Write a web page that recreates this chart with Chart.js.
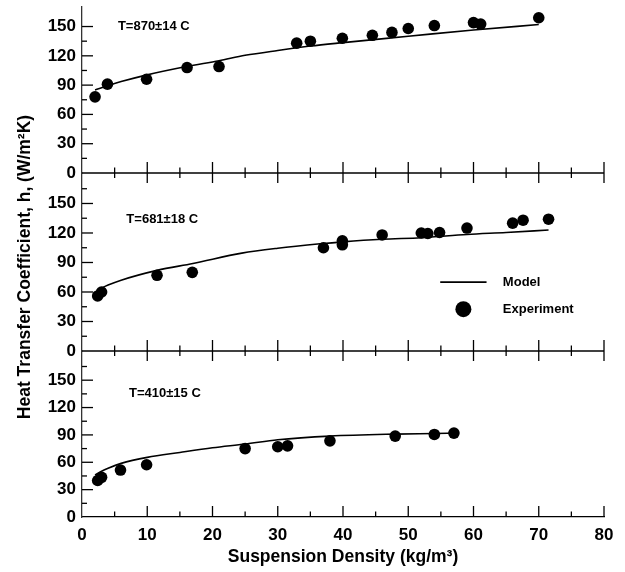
<!DOCTYPE html>
<html><head><meta charset="utf-8">
<script src="https://cdn.jsdelivr.net/npm/chart.js@4/dist/chart.umd.min.js"></script>
<style>html,body{margin:0;padding:0;background:#fff}#wrap{width:625px;height:572px;position:relative}</style>
</head><body><div id="wrap"><canvas id="c" width="625" height="572"></canvas></div>
<script>
// ---- data ----
const xTickValues = [0,10,20,30,40,50,60,70,80];
const yTickValues = [0,30,60,90,120,150];
const panelLabels = ['T=870±14 C','T=681±18 C','T=410±15 C'];
const seriesNames = ['Model','Experiment'];

// Panel 1 (T=870)
const exp1X = [2.0,3.9,9.9,16.1,21.0,32.9,35.0,39.9,44.5,47.5,50.0,54.0,60.0,61.1,70.0];
const exp1Y = [78,91,96,108,109,133,135,138,141,144,148,151,154,152.5,159];
const mod1X = [2,4,6,10,16,21,25,30,35,40,50,60,70];
const mod1Y = [85,89.5,93.6,100.5,109,115,120.5,125.5,130,133.5,140,146.5,152];

// Panel 2 (T=681)
const exp2X = [2.4,3.0,11.5,16.9,37.0,39.9,39.9,46.0,52.0,53.0,54.8,59.0,66.0,67.6,71.5];
const exp2Y = [56,60,77,80,105,112,108,118,120,119.5,120.5,125,130,133,134];
const mod2X = [2.3,4,6,11.5,17,24.5,30,36.5,40,46,52,59,65,71.5];
const mod2Y = [61.7,67,72,82,89,99.5,104.5,109,111,113.6,115.2,118.5,120.5,123];

// Panel 3 (T=410)
const exp3X = [2.4,3.0,5.9,9.9,25.0,30.0,31.5,38.0,48.0,54.0,57.0];
const exp3Y = [40,43.5,51.5,57.3,75,77,78,83.5,88.7,90.5,92];
const mod3X = [2,3,4,6,10,15,20,25,30,38,48,54,57];
const mod3Y = [46,50.2,53.5,58.8,65.4,70.8,75.9,80,84.7,88.7,90.9,91.6,92];

const pts = (xs, ys) => xs.map((x,i)=>({x, y: ys[i]}));

const FONT = "'Liberation Sans', Arial, sans-serif";

function modelDs(xs, ys, axis){
  return {label: seriesNames[0], data: pts(xs,ys), yAxisID: axis, showLine: true,
    borderColor:'#000', borderWidth:1.6, pointRadius:0, fill:false,
    cubicInterpolationMode:'monotone'};
}
function expDs(xs, ys, axis){
  return {label: seriesNames[1], data: pts(xs,ys), yAxisID: axis, showLine:false,
    backgroundColor:'#000', borderColor:'#000', borderWidth:0, pointRadius:5.8, pointHoverRadius:5.8};
}

function yAxis(max, weight, sw){
  return {
    type:'linear', position:'left', stack:'panels', stackWeight: sw, weight: weight,
    min:0, max:max,
    afterBuildTicks: s => { s.ticks = yTickValues.map(v=>({value:v})); },
    afterFit: s => { s.width = 82; s.paddingTop = 0; s.paddingBottom = 0; },
    grid:{display:false, drawTicks:false},
    border:{display:true, color:'#333', width:1.3},
    ticks:{color:'#000', padding:6, autoSkip:false, font:{family:FONT, size:17, weight:'bold'}}
  };
}

// decorations: inward/cross ticks, zero lines, panel labels, legend, y title
const decor = {
  id:'decor',
  afterDraw(chart){
    const ctx = chart.ctx, xs = chart.scales.x;
    const L = xs.left, R = xs.right;
    ctx.save();
    ctx.strokeStyle = '#000';
    ctx.lineWidth = 1.3;
    const ids = ['y1','y2','y3'];
    ids.forEach((id, i) => {
      const ys = chart.scales[id];
      const y0 = ys.getPixelForValue(0);
      // y ticks inward
      for (let v = 15; v < ys.max - 5; v += 15) {
        const py = ys.getPixelForValue(v);
        const len = (v % 30 === 0) ? 11 : 5;
        ctx.beginPath(); ctx.moveTo(L, py); ctx.lineTo(L + len, py); ctx.stroke();
      }
      // zero line + x ticks
      if (i < 2) {
        ctx.beginPath(); ctx.moveTo(L, y0); ctx.lineTo(R, y0); ctx.stroke();
      }
      for (let v = 5; v <= 80; v += 5) {
        const px = xs.getPixelForValue(v);
        const major = v % 10 === 0;
        const up = major ? 11 : 5.5, dn = i < 2 ? (major ? 10 : 5) : 0;
        ctx.beginPath(); ctx.moveTo(px, y0 - up); ctx.lineTo(px, y0 + dn); ctx.stroke();
      }
      // panel label
      const lab = [[5.5,150],[6.8,134],[7.2,135]][i];
      ctx.fillStyle = '#000';
      ctx.font = 'bold 13px ' + FONT;
      ctx.textBaseline = 'middle'; ctx.textAlign = 'left';
      ctx.fillText(panelLabels[i], xs.getPixelForValue(lab[0]), ys.getPixelForValue(lab[1]));
    });
    // legend in middle panel
    const y2 = chart.scales.y2;
    const lx0 = xs.getPixelForValue(54.9), lx1 = xs.getPixelForValue(62.0);
    const ly1 = y2.getPixelForValue(70), ly2 = y2.getPixelForValue(42.5);
    ctx.lineWidth = 1.6;
    ctx.beginPath(); ctx.moveTo(lx0, ly1); ctx.lineTo(lx1, ly1); ctx.stroke();
    ctx.beginPath(); ctx.arc((lx0+lx1)/2, ly2, 8, 0, Math.PI*2); ctx.fill();
    const tx = xs.getPixelForValue(64.5);
    ctx.fillText(chart.data.datasets[0].label, tx, ly1);
    ctx.fillText(chart.data.datasets[1].label, tx, ly2);
    // y title
    const ca = chart.chartArea;
    ctx.translate(25, (ca.top + ca.bottom)/2 + 5);
    ctx.rotate(-Math.PI/2);
    ctx.textAlign = 'center';
    ctx.font = 'bold 17.5px ' + FONT;
    ctx.fillText('Heat Transfer Coefficient, h, (W/m²K)', 0, 0);
    ctx.restore();
  }
};

new Chart(document.getElementById('c'), {
  type:'scatter',
  data:{ datasets:[
    modelDs(mod2X, mod2Y, 'y2'), expDs(exp2X, exp2Y, 'y2'),
    modelDs(mod1X, mod1Y, 'y1'), expDs(exp1X, exp1Y, 'y1'),
    modelDs(mod3X, mod3Y, 'y3'), expDs(exp3X, exp3Y, 'y3')
  ]},
  options:{
    responsive:false, animation:false, devicePixelRatio:1,
    layout:{padding:{left:0, top:7, right:21, bottom:0}},
    plugins:{legend:{display:false}, tooltip:{enabled:false}},
    scales:{
      x:{type:'linear', position:'bottom', min:0, max:80,
        afterBuildTicks: s => { s.ticks = xTickValues.map(v=>({value:v})); },
        afterFit: s => { s.height = 55; s.paddingLeft = 0; s.paddingRight = 0; },
        grid:{display:false, drawTicks:false},
        border:{display:true, color:'#000', width:1.3},
        ticks:{color:'#000', padding:8, autoSkip:false, font:{family:FONT, size:17, weight:'bold'}},
        title:{display:true, text:'Suspension Density (kg/m³)', color:'#000',
          font:{family:FONT, size:17.5, weight:'bold'}, padding:{top:0, bottom:4}}
      },
      y1: yAxis(170, 3, 166),
      y2: yAxis(181, 2, 178),
      y3: yAxis(182, 1, 166)
    }
  },
  plugins:[decor]
});
</script></body></html>
